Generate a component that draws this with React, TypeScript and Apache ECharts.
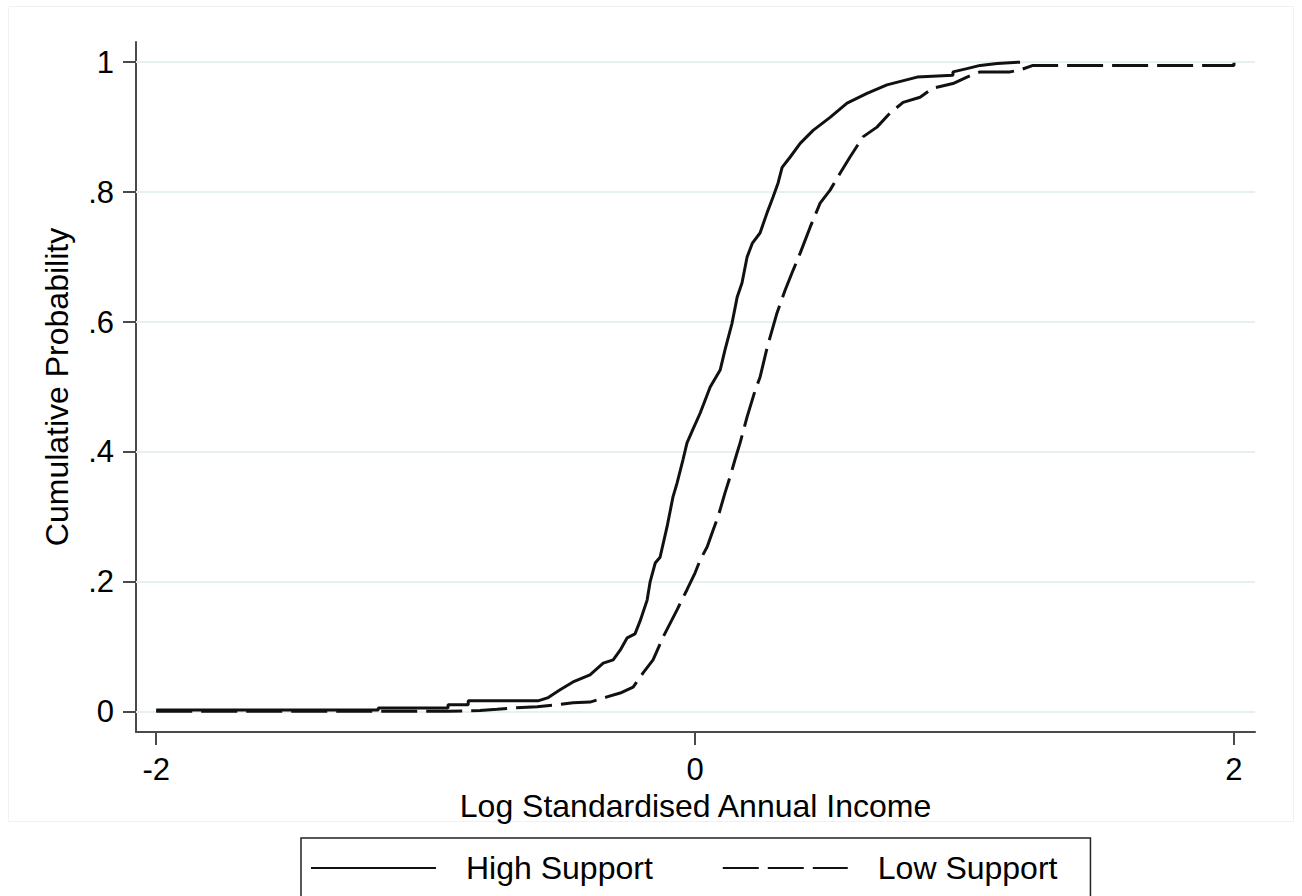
import React, { useEffect, useRef } from "react";
import * as echarts from "echarts";

const highX = [-2.0, -1.176, -1.176, -0.917, -0.917, -0.842, -0.842, -0.583, -0.545, -0.501, -0.453, -0.39, -0.341, -0.304, -0.278, -0.252, -0.223, -0.204, -0.178, -0.167, -0.148, -0.13, -0.104, -0.082, -0.067, -0.045, -0.03, -0.011, 0.019, 0.056, 0.093, 0.111, 0.137, 0.156, 0.174, 0.193, 0.212, 0.241, 0.267, 0.289, 0.308, 0.323, 0.353, 0.39, 0.438, 0.501, 0.564, 0.638, 0.712, 0.824, 0.957, 0.957, 1.009, 1.058, 1.121, 1.206];
const highY = [0.003, 0.003, 0.006, 0.006, 0.011, 0.011, 0.017, 0.017, 0.022, 0.034, 0.046, 0.057, 0.075, 0.08, 0.095, 0.114, 0.12, 0.14, 0.172, 0.2, 0.229, 0.238, 0.285, 0.331, 0.352, 0.388, 0.414, 0.432, 0.46, 0.5, 0.526, 0.557, 0.598, 0.638, 0.66, 0.7, 0.721, 0.737, 0.768, 0.792, 0.814, 0.838, 0.854, 0.875, 0.895, 0.915, 0.937, 0.952, 0.965, 0.977, 0.98, 0.985, 0.99, 0.995, 0.998, 1.0];

const lowX = [-2.0, -0.917, -0.798, -0.735, -0.675, -0.586, -0.512, -0.453, -0.39, -0.327, -0.278, -0.23, -0.193, -0.156, -0.119, -0.067, -0.03, 0.0, 0.019, 0.045, 0.067, 0.085, 0.111, 0.13, 0.148, 0.167, 0.193, 0.223, 0.241, 0.267, 0.304, 0.334, 0.364, 0.39, 0.427, 0.464, 0.501, 0.538, 0.575, 0.623, 0.675, 0.724, 0.772, 0.835, 0.883, 0.957, 1.009, 1.058, 1.169, 1.206, 1.254, 2.0, 2.0];
const lowY = [0.001, 0.001, 0.002, 0.004, 0.006, 0.008, 0.011, 0.014, 0.015, 0.023, 0.029, 0.038, 0.06, 0.08, 0.115, 0.157, 0.188, 0.214, 0.234, 0.254, 0.28, 0.3, 0.337, 0.362, 0.388, 0.414, 0.454, 0.495, 0.515, 0.56, 0.614, 0.649, 0.68, 0.706, 0.746, 0.783, 0.803, 0.829, 0.854, 0.885, 0.9, 0.922, 0.938, 0.946, 0.96, 0.967, 0.977, 0.985, 0.985, 0.988, 0.995, 0.995, 0.999];

const xTicks = [-2, 0, 2];
const yTicks = [0, 0.2, 0.4, 0.6, 0.8, 1];
const seriesNames = ["High Support", "Low Support"];
const xTitle = "Log Standardised Annual Income";
const yTitle = "Cumulative Probability";

const FONT = "'Liberation Sans', Arial, sans-serif";
const AXIS_COLOR = "#4a4a4a";

function fmtY(v: number): string {
  if (Math.abs(v) < 1e-9) return "0";
  if (Math.abs(v - 1) < 1e-9) return "1";
  return "." + String(Math.round(v * 10));
}

export default function App() {
  const ref = useRef<HTMLDivElement>(null);
  useEffect(() => {
    if (!ref.current) return;
    const chart = echarts.init(ref.current, null, { renderer: "svg" });
    const zip = (xs: number[], ys: number[]) => xs.map((x, i) => [x, ys[i]]);
    chart.setOption({
      animation: false,
      backgroundColor: "#ffffff",
      textStyle: { fontFamily: FONT },
      graphic: [
        {
          type: "rect",
          shape: { x: 8.5, y: 6.5, width: 1285, height: 815 },
          style: { fill: "none", stroke: "#f1f1f1", lineWidth: 1 },
          silent: true,
          z: -10,
        },
      ],
      grid: { left: 136, right: 47, top: 42, bottom: 164, containLabel: false },
      legend: {
        data: seriesNames,
        left: 301,
        top: 838,
        orient: "horizontal",
        itemWidth: 125,
        itemHeight: 14,
        itemGap: 69,
        borderColor: "#222222",
        borderWidth: 1.5,
        padding: [14, 33, 20, 9],
        itemStyle: { opacity: 0, borderWidth: 0 },
        textStyle: { fontSize: 32, color: "#000000", fontFamily: FONT, padding: [0, 0, 0, 25] },
      },
      xAxis: {
        type: "value",
        min: -2.075,
        max: 2.078,
        name: xTitle,
        nameLocation: "middle",
        nameGap: 51,
        nameTextStyle: { fontSize: 32, color: "#000000", fontFamily: FONT },
        axisLine: { show: true, onZero: false, lineStyle: { color: AXIS_COLOR, width: 2 } },
        axisTick: { show: true, customValues: xTicks, length: 13, lineStyle: { color: AXIS_COLOR, width: 2 } },
        axisLabel: {
          customValues: xTicks,
          fontSize: 31,
          color: "#000000",
          margin: 22,
          fontFamily: FONT,
          formatter: (v: number) => String(Math.round(v)),
        },
        splitLine: { show: false },
      },
      yAxis: {
        type: "value",
        min: -0.031,
        max: 1.031,
        name: yTitle,
        nameLocation: "middle",
        nameRotate: 90,
        nameGap: 63,
        nameTextStyle: { fontSize: 32, color: "#000000", fontFamily: FONT },
        axisLine: { show: true, onZero: false, lineStyle: { color: AXIS_COLOR, width: 2 } },
        axisTick: { show: true, customValues: yTicks, length: 13, lineStyle: { color: AXIS_COLOR, width: 2 } },
        axisLabel: {
          customValues: yTicks,
          fontSize: 31,
          color: "#000000",
          margin: 22,
          fontFamily: FONT,
          formatter: (v: number) => fmtY(v),
        },
        splitLine: { show: false },
      },
      series: [
        {
          name: seriesNames[0],
          type: "line",
          data: zip(highX, highY),
          showSymbol: false,
          symbol: "none",
          z: 3,
          lineStyle: { color: "#111111", width: 3, type: "solid" },
          itemStyle: { color: "#111111" },
          markLine: {
            silent: true,
            symbol: "none",
            z: 1,
            label: { show: false },
            lineStyle: { color: "#e6eff1", width: 2, type: "solid" },
            data: yTicks.map((v) => ({ yAxis: v })),
          },
        },
        {
          name: seriesNames[1],
          type: "line",
          data: zip(lowX, lowY),
          showSymbol: false,
          symbol: "none",
          z: 3,
          lineStyle: { color: "#111111", width: 3, type: [36, 9] },
          itemStyle: { color: "#111111" },
        },
      ],
    });
    return () => chart.dispose();
  }, []);
  return (
    <div
      ref={ref}
      style={{ position: "fixed", left: 0, top: 0, width: 1302, height: 896 }}
    />
  );
}
